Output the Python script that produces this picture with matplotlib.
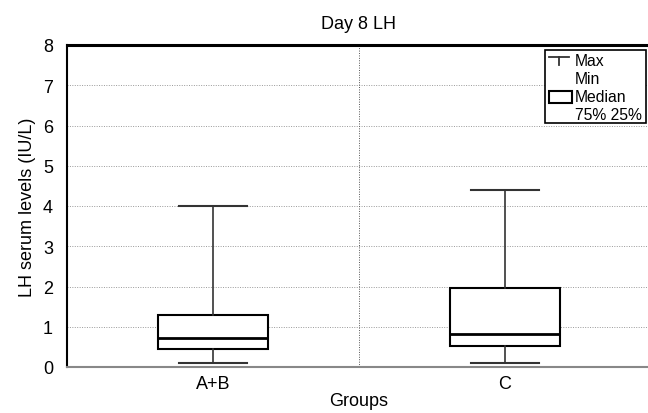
import matplotlib
matplotlib.use("Agg")
import matplotlib.pyplot as plt
from matplotlib.patches import Rectangle
from matplotlib.lines import Line2D

plt.rcParams['font.family'] = ['Liberation Sans', 'DejaVu Sans']

# data
groups = ["A+B", "C"]
mins = [0.1, 0.1]
q1s = [0.45, 0.52]
medians = [0.72, 0.82]
q3s = [1.30, 1.96]
maxs = [4.0, 4.4]

stats = []
for g, lo, a, m, b, hi in zip(groups, mins, q1s, medians, q3s, maxs):
    stats.append(dict(label=g, whislo=lo, q1=a, med=m, q3=b, whishi=hi, fliers=[]))

fig = plt.figure(figsize=(6.48, 4.14), dpi=100)
ax = fig.add_axes([67/648, 46/414, 584/648, 322/414])

ax.bxp(stats, positions=[0, 1], widths=0.377, showfliers=False, patch_artist=True,
       boxprops=dict(facecolor='white', edgecolor='black', linewidth=1.5),
       medianprops=dict(color='black', linewidth=2.0),
       whiskerprops=dict(color='#333333', linewidth=1.2),
       capprops=dict(color='#333333', linewidth=1.5),
       capwidths=0.236, zorder=3)

ax.set_xlim(-0.5, 1.5)
ax.set_ylim(0, 8)
ax.set_yticks(range(0, 9))
ax.set_xticks([0, 1])
ax.set_xticklabels(groups)
ax.tick_params(axis='both', length=0)
ax.tick_params(axis='y', labelsize=13, pad=10)
ax.tick_params(axis='x', labelsize=13, pad=6)

for yv in range(1, 8):
    ax.axhline(yv, color='#999999', linestyle=(0, (1, 1.5)), linewidth=0.7, zorder=1)
ax.axvline(0.5, color='#555555', linestyle=(0, (1, 1.5)), linewidth=0.7, zorder=1)

ax.spines['top'].set_linewidth(2.2)
ax.spines['top'].set_color('black')
ax.spines['left'].set_linewidth(1.5)
ax.spines['left'].set_color('black')
ax.spines['bottom'].set_linewidth(1.5)
ax.spines['bottom'].set_color('#888888')
ax.spines['right'].set_visible(False)

ax.set_title("Day 8 LH", fontsize=13, pad=12)
ax.set_xlabel("Groups", fontsize=13, labelpad=0)
ax.set_ylabel("LH serum levels (IU/L)", fontsize=13, labelpad=5)

# legend box drawn by hand
tr = ax.transAxes
def fx(px):
    return (px - 67) / 584
def fy(py):
    return (368 - py) / 322

ax.add_patch(Rectangle((fx(545), fy(124)), fx(646) - fx(545), fy(51) - fy(124),
                       transform=tr, facecolor='white', edgecolor='black',
                       linewidth=1.2, zorder=5, clip_on=False))
ax.add_line(Line2D([fx(549), fx(569)], [fy(58), fy(58)], transform=tr,
                   color='#333333', linewidth=1.3, zorder=6))
ax.add_line(Line2D([fx(559), fx(559)], [fy(58), fy(66)], transform=tr,
                   color='#333333', linewidth=1.3, zorder=6))
ax.add_patch(Rectangle((fx(549), fy(104)), fx(572) - fx(549), fy(92) - fy(104),
                       transform=tr, facecolor='white', edgecolor='black',
                       linewidth=1.5, zorder=6))
for txt, py in zip(["Max", "Min", "Median", "75% 25%"], [61, 80, 98, 115]):
    ax.text(fx(575), fy(py), txt, transform=tr, fontsize=11.3, va='center',
            ha='left', zorder=7)

fig.savefig("out.png", dpi=100)
